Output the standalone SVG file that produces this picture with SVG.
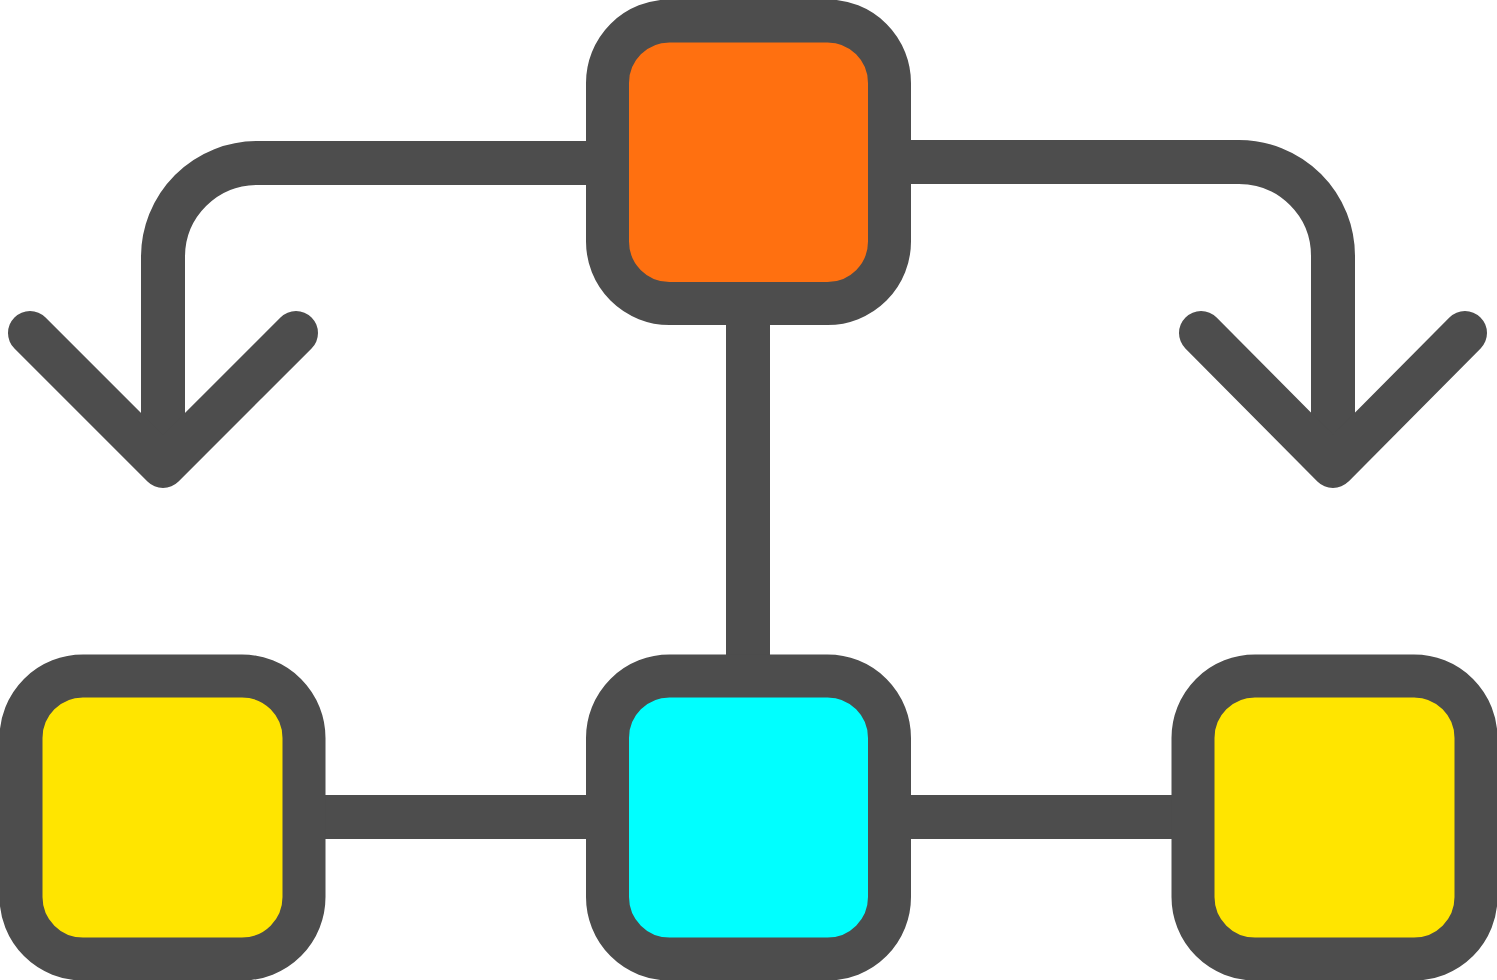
<svg xmlns="http://www.w3.org/2000/svg" width="1497" height="980" viewBox="0 0 1497 980">
<style>
.ln{fill:none;stroke:#4d4d4d;stroke-width:44;stroke-linejoin:round}
.nd{stroke:#4d4d4d;stroke-width:43}
.cap{stroke-linecap:round}
</style>
<rect width="1497" height="980" fill="#ffffff"/>
<g id="connectors">
<path class="ln" d="M748,304 V676"/>
<path class="ln" d="M304,817 H607"/>
<path class="ln" d="M890,817 H1193"/>
<path class="ln" d="M607,163 H257 A94,94 0 0 0 163,257 V465"/>
<path class="ln cap" d="M30,333 L163,466 L296,333"/>
<path class="ln" d="M890,162 H1239 A94,94 0 0 1 1333,256 V465"/>
<path class="ln cap" d="M1201,333 L1333,466 L1465,333"/>
</g>
<g id="node-top"><rect class="nd" x="607.5" y="21" width="282" height="282.5" rx="62" fill="#ff7010"/></g>
<g id="node-left"><rect class="nd" x="21" y="676" width="283" height="283" rx="62" fill="#ffe500"/></g>
<g id="node-middle"><rect class="nd" x="607.5" y="676" width="282" height="283" rx="62" fill="#00ffff"/></g>
<g id="node-right"><rect class="nd" x="1193" y="676" width="283" height="283" rx="62" fill="#ffe500"/></g>
</svg>
